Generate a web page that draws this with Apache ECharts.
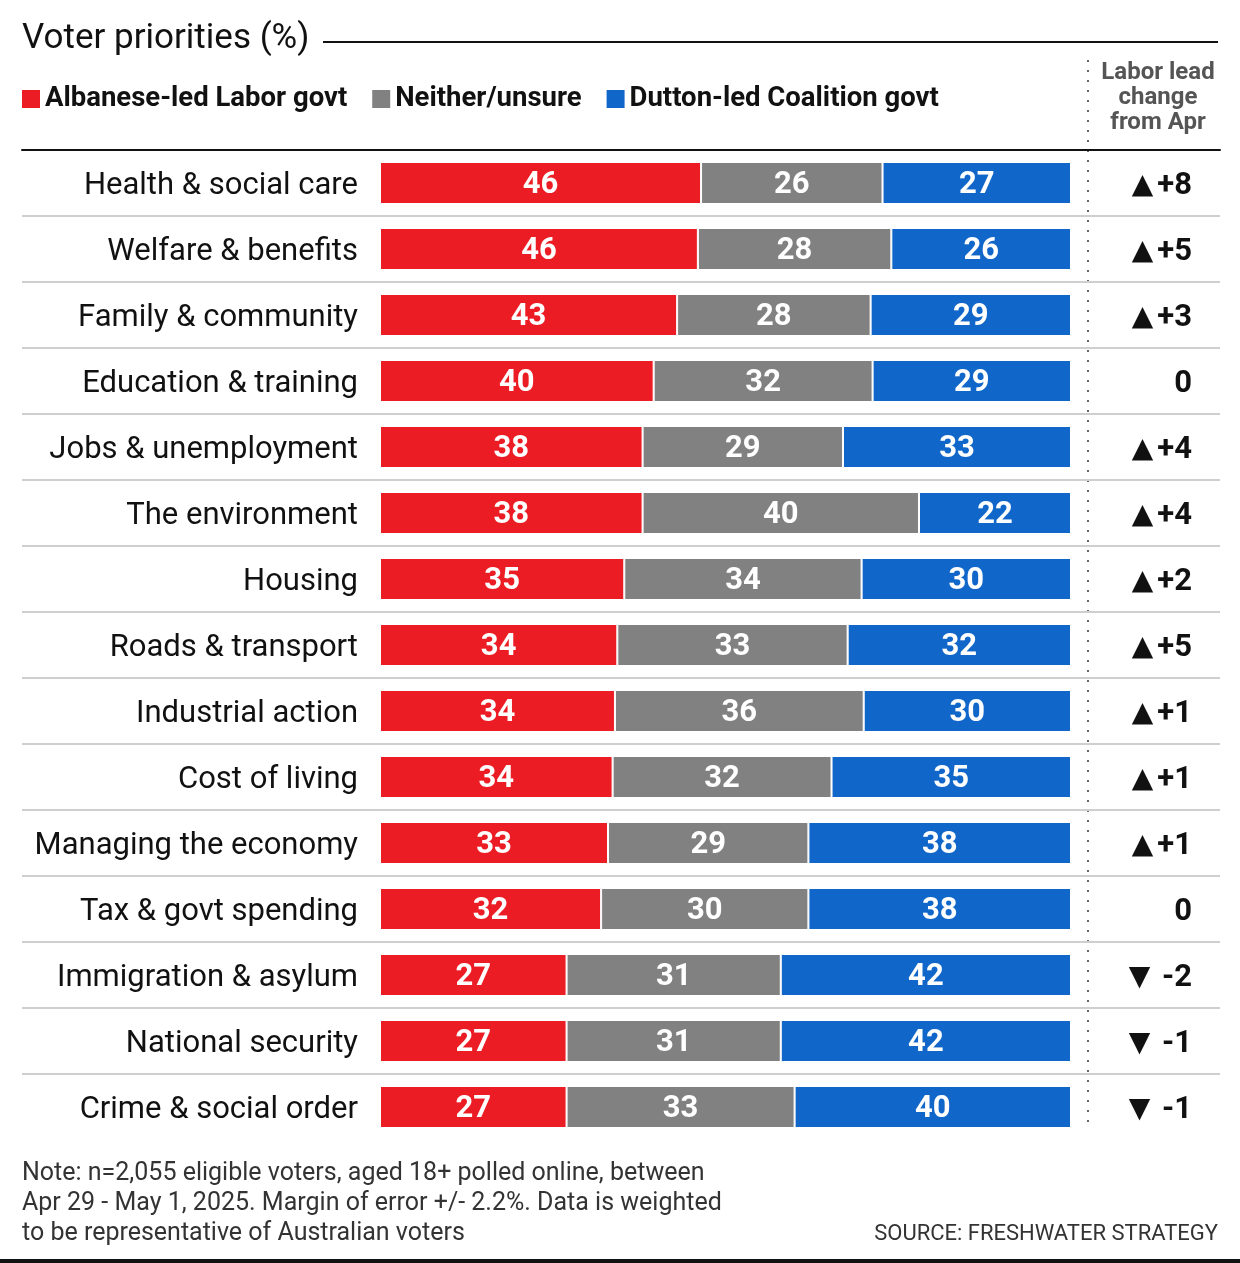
<!DOCTYPE html>
<html>
<head>
<meta charset="utf-8">
<script src="https://cdn.jsdelivr.net/npm/echarts@6/dist/echarts.min.js"></script>
<style>
  html, body { margin: 0; padding: 0; background: #fff; }
  #chart { width: 1240px; height: 1263px; }
</style>
</head>
<body>
<div id="chart"></div>
<script>
// data
var topics = ['Health & social care', 'Welfare & benefits', 'Family & community', 'Education & training',
  'Jobs & unemployment', 'The environment', 'Housing', 'Roads & transport', 'Industrial action',
  'Cost of living', 'Managing the economy', 'Tax & govt spending', 'Immigration & asylum',
  'National security', 'Crime & social order'];
var labor = [46, 46, 43, 40, 38, 38, 35, 34, 34, 34, 33, 32, 27, 27, 27];
var neither = [26, 28, 28, 32, 29, 40, 34, 33, 36, 32, 29, 30, 31, 31, 33];
var coalition = [27, 26, 29, 29, 33, 22, 30, 32, 30, 35, 38, 38, 42, 42, 40];
var leadChange = ['▲+8', '▲+5', '▲+3', '0', '▲+4', '▲+4', '▲+2', '▲+5', '▲+1', '▲+1', '▲+1', '0', '▼ -2', '▼ -1', '▼ -1'];

var seriesNames = ['Albanese-led Labor govt', 'Neither/unsure', 'Dutton-led Coalition govt'];
var seriesColors = ['#ec1c24', '#818181', '#1167c9'];

// bars fill the row, so each value is drawn as its share of the row total
var rows = [labor, neither, coalition];
var totals = labor.map(function (v, i) { return v + neither[i] + coalition[i]; });

var font = 'Roboto, "Noto Sans", sans-serif';

var series = rows.map(function (vals, k) {
  return {
    name: seriesNames[k],
    type: 'bar',
    stack: 'all',
    xAxisIndex: 0,
    yAxisIndex: 0,
    barWidth: 42,
    itemStyle: { color: seriesColors[k], borderColor: '#fff', borderWidth: 1 },
    label: {
      show: true,
      position: 'inside',
      offset: [0, 2],
      color: '#fff',
      fontFamily: font,
      fontWeight: 'bold',
      fontSize: 31,
      formatter: function (p) { return vals[p.dataIndex]; }
    },
    emphasis: { disabled: true },
    data: vals.map(function (v, i) { return v / totals[i] * 100; })
  };
});

var option = {
  animation: false,
  backgroundColor: '#fff',
  title: [
    {
      text: 'Voter priorities (%)',
      left: 22, top: 19, padding: 0,
      textStyle: { fontFamily: font, fontWeight: 'normal', fontSize: 35, lineHeight: 40, color: '#111' }
    },
    {
      text: 'Labor lead\nchange\nfrom Apr',
      left: 1158, top: 60, padding: 0, textAlign: 'center',
      textStyle: { fontFamily: font, fontWeight: 'bold', fontSize: 24, lineHeight: 25, color: '#555' }
    },
    {
      text: 'Note: n=2,055 eligible voters, aged 18+ polled online, between\nApr 29 - May 1, 2025. Margin of error +/- 2.2%. Data is weighted\nto be representative of Australian voters',
      left: 22, top: 1159, padding: 0,
      textStyle: { fontFamily: font, fontWeight: 'normal', fontSize: 25, lineHeight: 30, color: '#333' }
    },
    {
      text: 'SOURCE: FRESHWATER STRATEGY',
      left: 1218, top: 1219, padding: 0, textAlign: 'right',
      textStyle: { fontFamily: font, fontWeight: 'normal', fontSize: 22, lineHeight: 30, color: '#333' }
    }
  ],
  legend: {
    left: 22, top: 85, padding: 0,
    itemWidth: 18, itemHeight: 18, itemGap: 25,
    icon: 'rect',
    selectedMode: false,
    itemStyle: { borderWidth: 0 },
    textStyle: { fontFamily: font, fontWeight: 'bold', fontSize: 27.5, lineHeight: 26, color: '#111' },
    data: seriesNames
  },
  grid: [
    { left: 380, right: 169, top: 150, bottom: 123 },
    { left: 22, right: 20, top: 150, bottom: 123 }
  ],
  xAxis: [
    { gridIndex: 0, type: 'value', min: 0, max: 100, show: false },
    {
      gridIndex: 1, type: 'value', min: 0, max: 1, position: 'top',
      axisLine: { show: true, lineStyle: { color: '#111', width: 2 } },
      axisTick: { show: false }, axisLabel: { show: false }, splitLine: { show: false }
    }
  ],
  yAxis: [
    {
      gridIndex: 0, type: 'category', inverse: true, data: topics,
      axisLine: { show: false }, axisTick: { show: false },
      axisLabel: {
        margin: 22,
        formatter: function (v) { return '{a|' + v + '}'; },
        rich: { a: { fontFamily: font, fontSize: 31, color: '#111', padding: [6, 0, 0, 0] } }
      }
    },
    {
      gridIndex: 0, type: 'category', inverse: true, position: 'right', data: leadChange,
      axisLine: { show: false }, axisTick: { show: false },
      axisLabel: {
        margin: 121, align: 'right', padding: [6, 0, 0, 0],
        formatter: function (v) {
          var c = v.charAt(0);
          if (c === '▲' || c === '▼') return '{t|' + c + '}{v|' + v.slice(1) + '}';
          return '{v|' + v + '}';
        },
        rich: {
          t: { fontFamily: '"DejaVu Sans", sans-serif', fontSize: 28, color: '#111', padding: [0, 4, 0, 0] },
          v: { fontFamily: font, fontWeight: 'bold', fontSize: 31, color: '#111' }
        }
      }
    },
    {
      gridIndex: 1, type: 'category', inverse: true, data: topics,
      axisLine: { show: false }, axisTick: { show: false }, axisLabel: { show: false },
      splitLine: { show: true, showMinLine: false, showMaxLine: false, lineStyle: { color: '#cfcfcf', width: 2 } }
    }
  ],
  graphic: [
    { type: 'line', shape: { x1: 323, y1: 42, x2: 1218, y2: 42 }, style: { stroke: '#111', lineWidth: 2 } },
    { type: 'line', shape: { x1: 1088, y1: 60, x2: 1088, y2: 1126 }, style: { stroke: '#666', lineWidth: 2, lineDash: [2, 8] } },
    { type: 'rect', shape: { x: 0, y: 1259, width: 1240, height: 4 }, style: { fill: '#111' } }
  ],
  series: series
};

echarts.init(document.getElementById('chart')).setOption(option);
</script>
</body>
</html>
